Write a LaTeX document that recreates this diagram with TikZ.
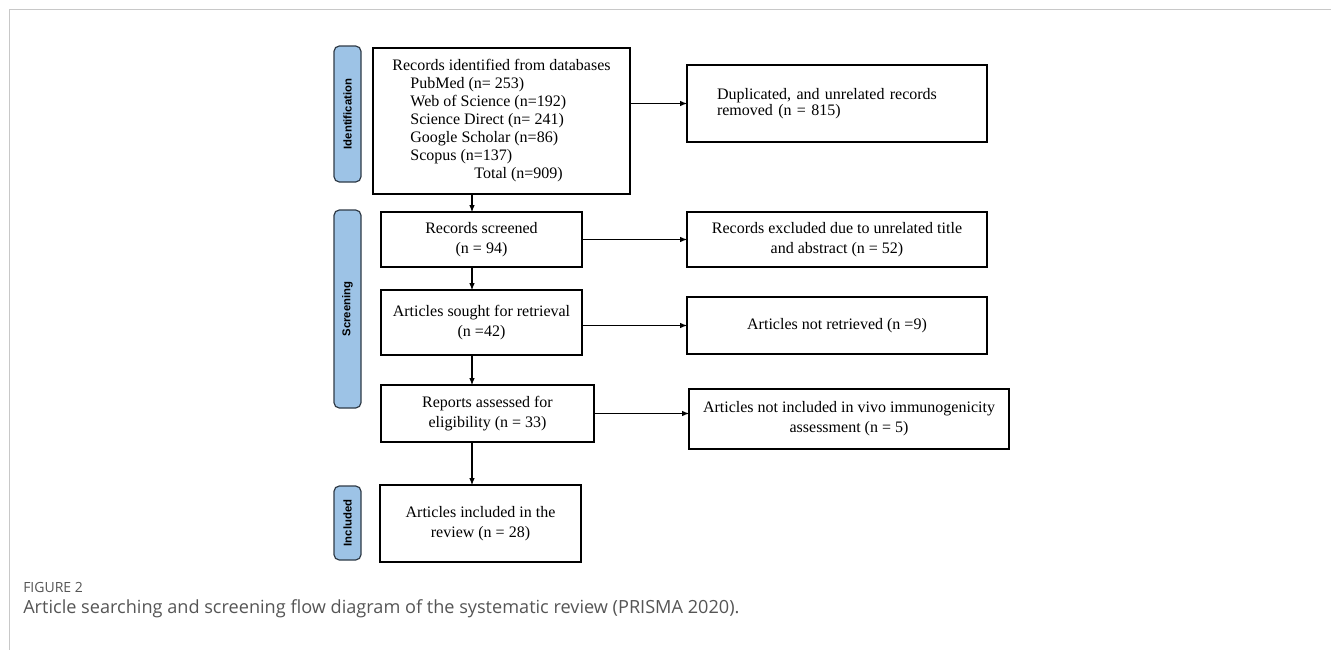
\documentclass[tikz,border=0pt]{standalone}
\usepackage{fontspec}
\setmainfont{Liberation Serif}
\setsansfont{Liberation Sans}
\newfontfamily\captionfont{Open Sans}
\usetikzlibrary{arrows,positioning}
\definecolor{stagefill}{HTML}{9DC3E6}
\definecolor{stagedraw}{HTML}{2F3B47}
\definecolor{captiongray}{HTML}{555555}
\definecolor{framegray}{HTML}{C8C8C8}

\begin{document}
\begin{tikzpicture}[x=0.75pt, y=-0.75pt,
    box/.style={rectangle, draw, line width=0.8pt, inner sep=2pt, align=center, font=\fontsize{12}{15}\selectfont},
    stage/.style={rectangle, draw=stagedraw, fill=stagefill, line width=0.9pt, rounded corners=4pt, rotate=90, minimum height=20.25pt, inner sep=0pt, font=\sffamily\bfseries\fontsize{8.5}{10}\selectfont},
    arrow/.style={->, >=latex, line width=0.8pt, shorten >=-0.5pt}
]
\useasboundingbox (0,0) rectangle (1331,650);

% Frame
\draw[framegray, line width=0.75pt] (1331,9) -- (9,9) -- (9,650);

% Stages
\node[stage, minimum width=102pt] (identstage) at (347.5,114) {Identification};
\node[stage, minimum width=148.5pt] (screenstage) at (347.5,309) {Screening};
\node[stage, minimum width=55.5pt] (inclstage) at (347.5,523) {Included};

% Main column
\node[box, align=left, font=\fontsize{12}{13.5}\selectfont, minimum width=192.75pt, minimum height=109.5pt] (ident) at (501.5,121) {Records identified from databases\\
\hspace*{13.5pt}PubMed (n= 253)\\
\hspace*{13.5pt}Web of Science (n=192)\\
\hspace*{13.5pt}Science Direct (n= 241)\\
\hspace*{13.5pt}Google Scholar (n=86)\\
\hspace*{13.5pt}Scopus (n=137)\\
\hspace*{61.5pt}Total (n=909)};
\node[box, minimum width=150.75pt, minimum height=41.25pt] (screened) at (481.5,239.5) {Records screened\\(n = 94)};
\node[box, minimum width=150.75pt, minimum height=48.75pt] (sought) at (481.5,322.5) {Articles sought for retrieval\\(n =42)};
\node[box, minimum width=159.75pt, minimum height=42.75pt] (reports) at (487.5,413.5) {Reports assessed for\\eligibility (n = 33)};
\node[box, minimum width=150.75pt, minimum height=57.75pt] (incl) at (480.5,523.5) {Articles included in the\\review (n = 28)};

% Excluded column
\node[box, align=left, font=\fontsize{12}{12}\selectfont, text width=180pt, inner xsep=22.5pt, minimum height=57.75pt] (dup) at (837,103.5) {Duplicated, and unrelated records\\removed (n = 815)};
\node[box, minimum width=225pt, minimum height=41.25pt] (excl) at (837,239.5) {Records excluded due to unrelated title\\and abstract (n = 52)};
\node[box, minimum width=225pt, minimum height=42.75pt] (notret) at (837,325.5) {Articles not retrieved (n =9)};
\node[box, minimum width=240pt, minimum height=45pt] (notincl) at (849,419) {Articles not included in vivo immunogenicity\\assessment (n = 5)};

% Arrows
\coordinate (spine) at (472,0);
\draw[arrow] (ident.south -| spine) -- (screened.north -| spine);
\draw[arrow] (screened.south -| spine) -- (sought.north -| spine);
\draw[arrow] (sought.south -| spine) -- (reports.north -| spine);
\draw[arrow] (reports.south -| spine) -- (incl.north -| spine);
\draw[arrow] (ident.east |- dup.west) -- (dup.west);
\draw[arrow] (screened.east) -- (screened.east -| excl.west);
\draw[arrow] (sought.east |- notret.west) -- (notret.west);
\draw[arrow] (reports.east) -- (reports.east -| notincl.west);

% Caption
\node[anchor=base west, inner sep=0pt, text=captiongray, font=\captionfont\fontsize{10.5}{12}\selectfont] (figlabel) at (23,592) {FIGURE 2};
\node[anchor=base west, inner sep=0pt, text=captiongray, font=\captionfont\fontsize{13.6}{15}\selectfont] (figcaption) at (23,613) {Article searching and screening flow diagram of the systematic review (PRISMA 2020).};

\end{tikzpicture}
\end{document}
